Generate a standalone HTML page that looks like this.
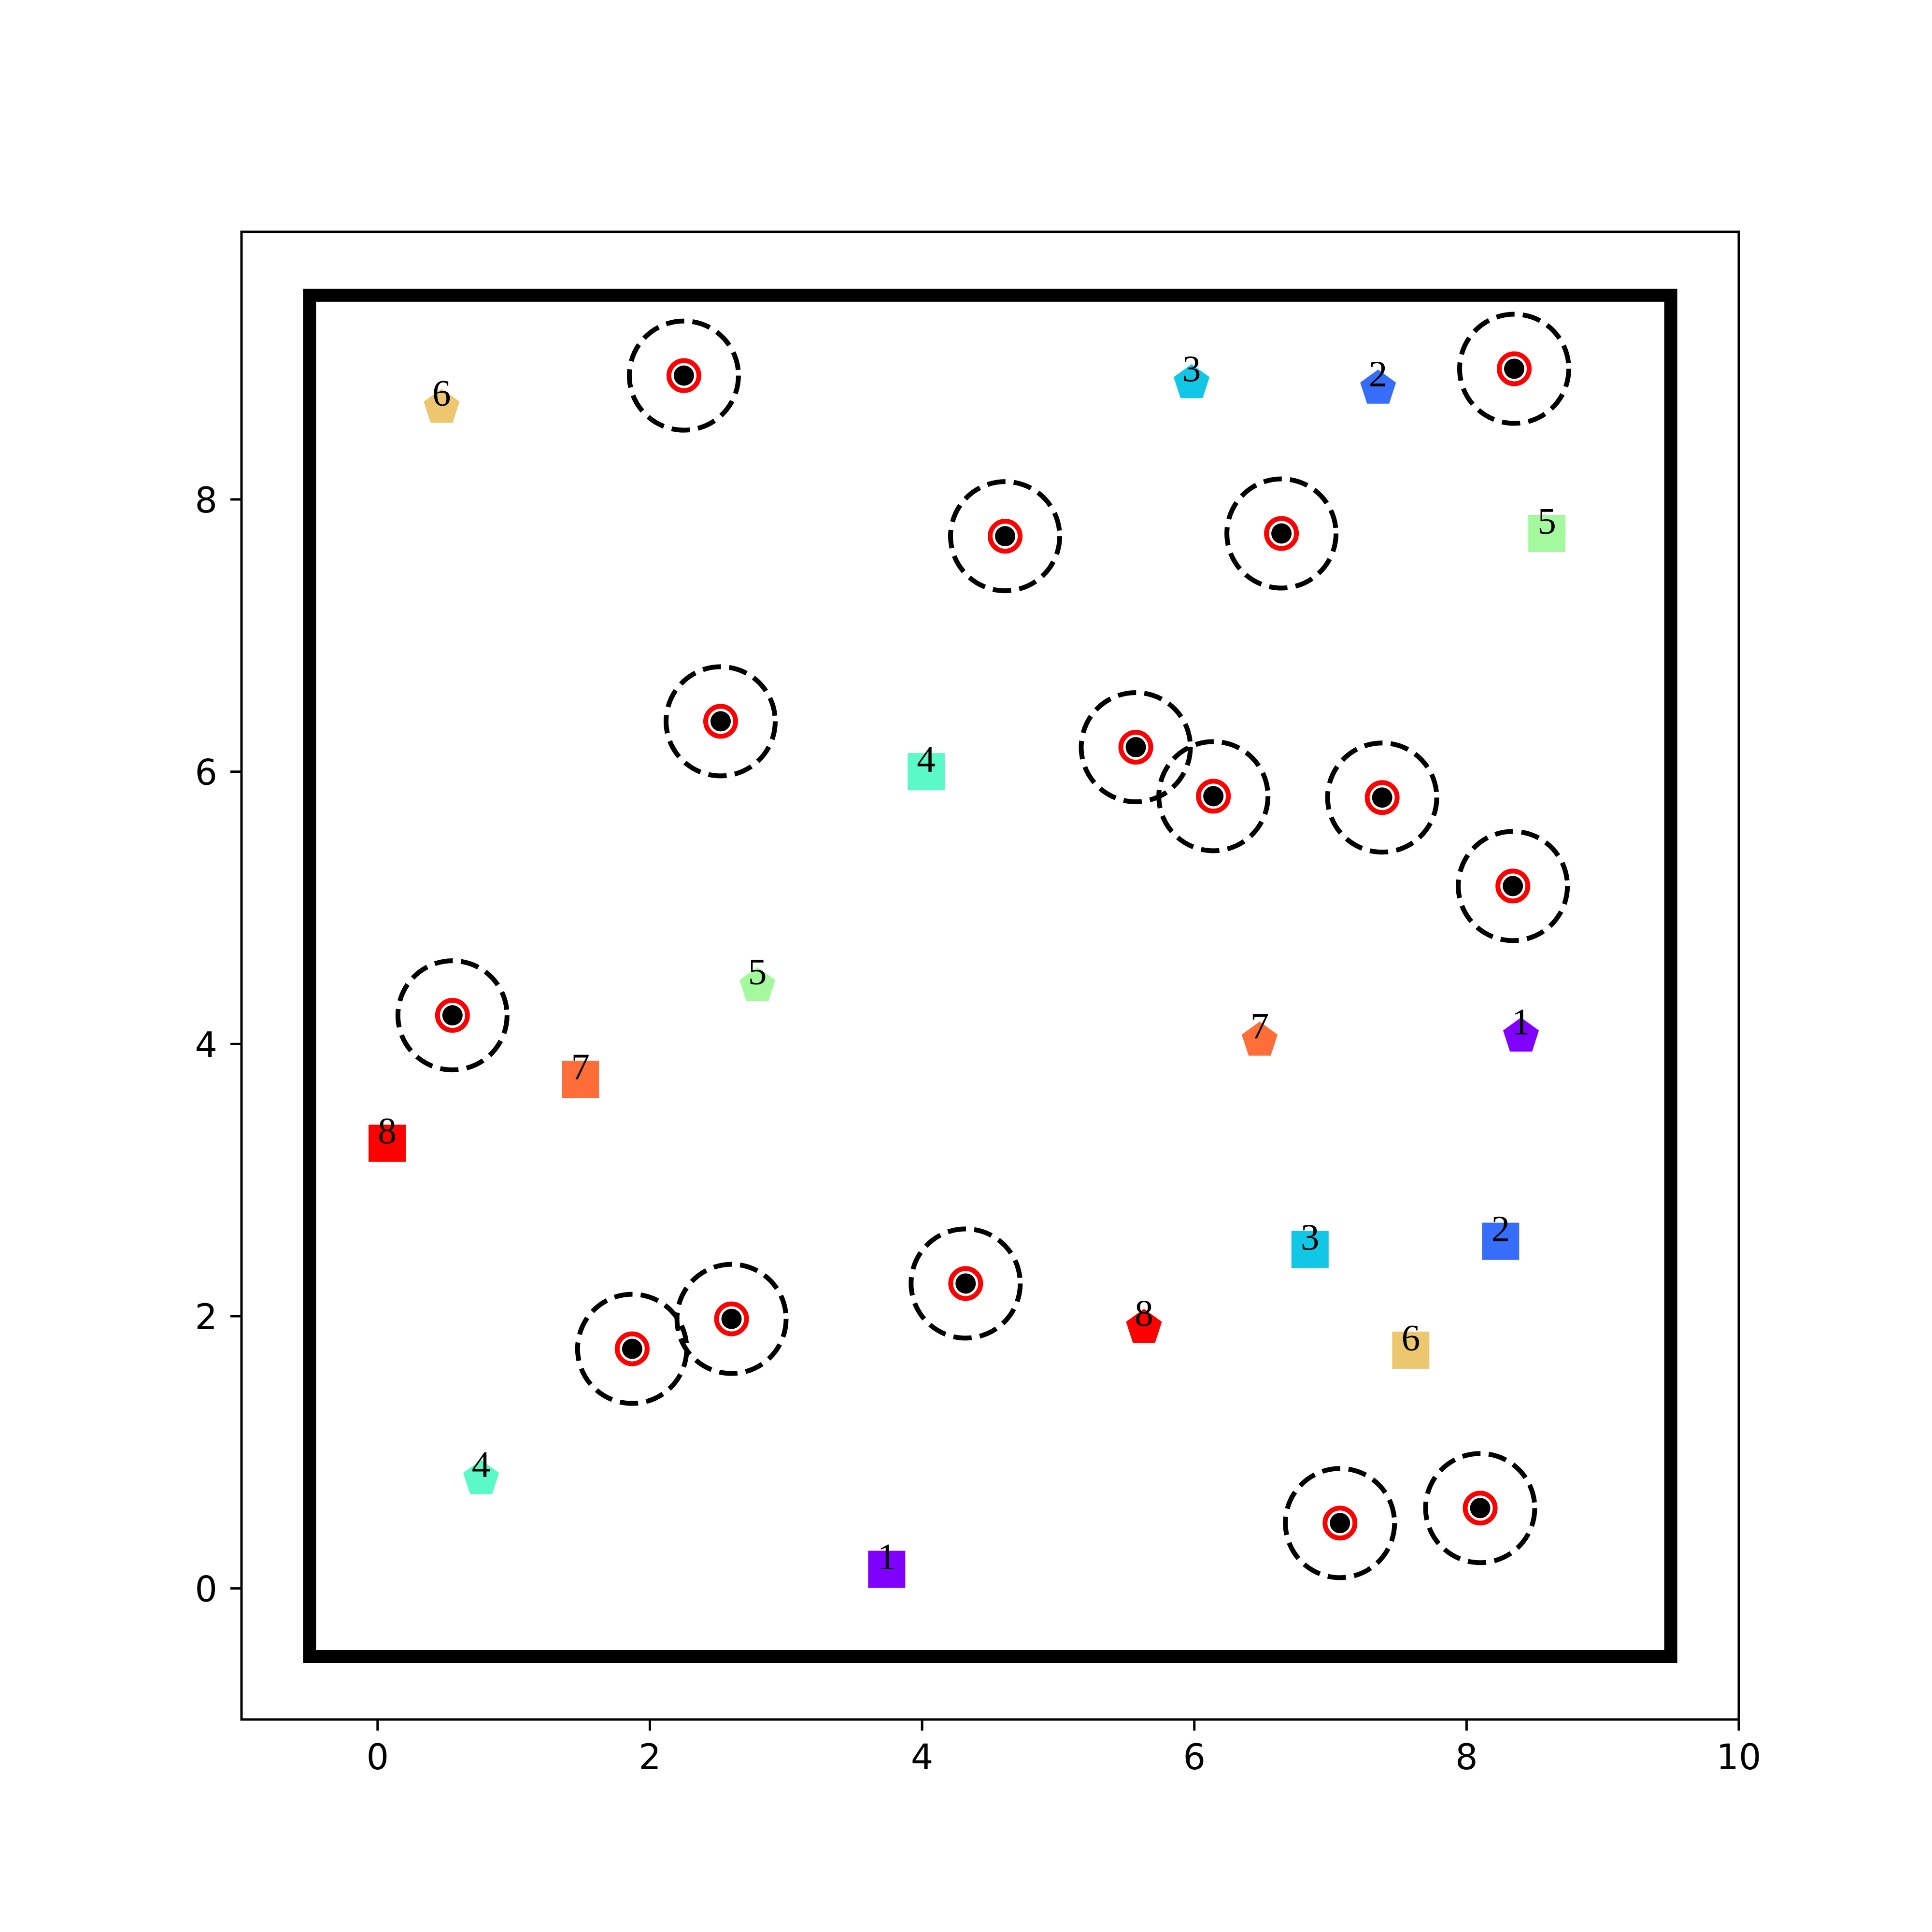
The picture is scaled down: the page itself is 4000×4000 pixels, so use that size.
<!DOCTYPE html>
<html><head><meta charset="utf-8"><style>
html,body{margin:0;padding:0;background:#fff;}
svg{display:block;}
</style></head><body>
<svg id="chart" width="4000" height="4000" viewBox="0 0 4000 4000" xmlns="http://www.w3.org/2000/svg">
<rect x="0" y="0" width="4000" height="4000" fill="#fff"/>
<g id="plot"></g>
<g id="axes"></g>
</svg>
<script>
const xTicks = [0, 2, 4, 6, 8, 10];
const yTicks = [0, 2, 4, 6, 8];
const targetX = [2.25, 8.35, 4.61, 6.64, 2.52, 5.57, 6.14, 7.38, 8.34, 0.55, 4.32, 2.60, 1.87, 7.07, 8.10];
const targetY = [8.91, 8.96, 7.73, 7.75, 6.37, 6.18, 5.82, 5.81, 5.16, 4.21, 2.24, 1.98, 1.76, 0.48, 0.59];
const squareLabels = ["1","2","3","4","5","6","7","8"];
const squareX = [3.74, 8.25, 6.85, 4.03, 8.59, 7.59, 1.49, 0.07];
const squareY = [0.14, 2.55, 2.49, 6.00, 7.75, 1.75, 3.74, 3.27];
const pentLabels = ["1","2","3","4","5","6","7","8"];
const pentX = [8.40, 7.35, 5.98, 0.76, 2.79, 0.47, 6.48, 5.63];
const pentY = [4.07, 8.83, 8.87, 0.82, 4.44, 8.69, 4.04, 1.93];
const colors = ["#8000ff","#376ef9","#12c7e6","#5bf9c7","#a4f99f","#edc76f","#ff6e39","#ff0000"];
const frameMin = -0.5, frameMax = 9.5;

const NS = "http://www.w3.org/2000/svg";
const L = 500, R = 3600, T = 480, B = 3560;
const xmin = -1, xmax = 10;
const s = (R - L) / (xmax - xmin);
const y0px = 3288.6;
function sx(v){ return L + (v - xmin) * s; }
function sy(v){ return y0px - v * s; }
function mk(tag, attrs, parent){
  const e = document.createElementNS(NS, tag);
  for (const k in attrs) e.setAttribute(k, attrs[k]);
  parent.appendChild(e); return e;
}
const plot = document.getElementById('plot');
const axes = document.getElementById('axes');

// frame
const fr = mk('rect', {x: sx(frameMin), y: sy(frameMax), width: sx(frameMax)-sx(frameMin), height: sy(frameMin)-sy(frameMax), fill:'none', stroke:'#000', 'stroke-width':27}, plot);



// squares
for (let i = 0; i < squareX.length; i++){
  const g = mk('g', {}, plot);
  
  
  const cx = sx(squareX[i]), cy = sy(squareY[i]);
  mk('rect', {x: cx-38.5, y: cy-38.5, width: 77, height: 77, fill: colors[i]}, g);
  const t = mk('text', {x: cx, y: cy, 'text-anchor':'middle', 'font-family':'"Liberation Serif", serif', 'font-size':77, fill:'#000'}, g);
  t.textContent = squareLabels[i];
}
// pentagons
for (let i = 0; i < pentX.length; i++){
  const g = mk('g', {}, plot);
  
  
  const cx = sx(pentX[i]), cy = sy(pentY[i]);
  const r = 39, pts = [];
  for (let k = 0; k < 5; k++){
    const a = -Math.PI/2 + k * 2*Math.PI/5;
    pts.push((cx + r*Math.cos(a)).toFixed(1) + ',' + (cy + 4 + r*Math.sin(a)).toFixed(1));
  }
  mk('polygon', {points: pts.join(' '), fill: colors[i]}, g);
  const t = mk('text', {x: cx, y: cy, 'text-anchor':'middle', 'font-family':'"Liberation Serif", serif', 'font-size':77, fill:'#000'}, g);
  t.textContent = pentLabels[i];
}
// targets
for (let i = 0; i < targetX.length; i++){
  const g = mk('g', {}, plot);
  
  
  const cx = sx(targetX[i]), cy = sy(targetY[i]);
  mk('circle', {cx, cy, r: 113, fill:'none', stroke:'#000', 'stroke-width':10, 'stroke-dasharray':'38 17'}, g);
  mk('circle', {cx, cy, r: 31, fill:'#fff', stroke:'#ff0000', 'stroke-width':10}, g);
  mk('circle', {cx, cy, r: 21, fill:'#000'}, g);
}

// spines
const sp = mk('rect', {x: L, y: T, width: R-L, height: B-T, fill:'none', stroke:'#000', 'stroke-width':5}, axes);


for (const v of xTicks){
  const g = mk('g', {}, axes);
  
  
  mk('line', {x1: sx(v), x2: sx(v), y1: B, y2: B+23, stroke:'#000', 'stroke-width':5}, g);
  const t = mk('text', {x: sx(v), y: B+103, 'text-anchor':'middle', 'font-family':'"DejaVu Sans", sans-serif', 'font-size':73, fill:'#000'}, g);
  t.textContent = v;
}
for (const v of yTicks){
  const g = mk('g', {}, axes);
  
  
  mk('line', {x1: L-23, x2: L, y1: sy(v), y2: sy(v), stroke:'#000', 'stroke-width':5}, g);
  const t = mk('text', {x: L-50, y: sy(v)+27, 'text-anchor':'end', 'font-family':'"DejaVu Sans", sans-serif', 'font-size':73, fill:'#000'}, g);
  t.textContent = v;
}
</script>
</body></html>
